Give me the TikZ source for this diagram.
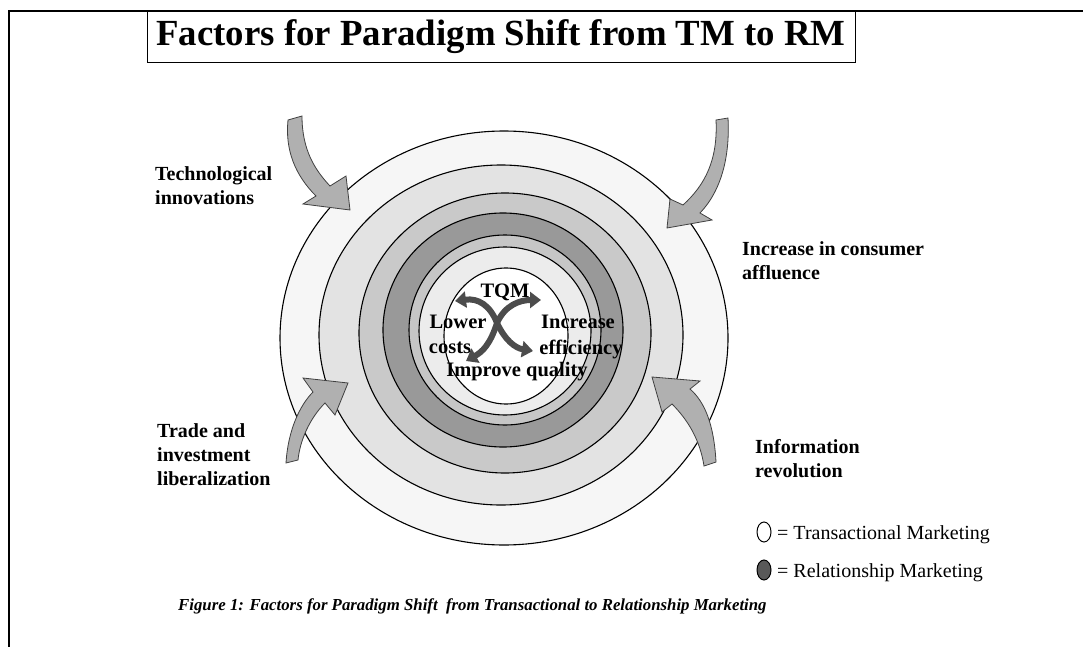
\documentclass[tikz,border=0pt]{standalone}
\usepackage{fontspec}
\setmainfont{Liberation Serif}
\usetikzlibrary{arrows.meta}
\tikzset{
  ring/.style={draw=black, line width=1.1pt},
  lab/.style={font=\fontsize{20}{24}\selectfont\bfseries, align=left, inner sep=0pt, anchor=north west},
  inlab/.style={font=\fontsize{20.5}{22}\selectfont\bfseries, inner sep=0pt},
  legtext/.style={font=\fontsize{20}{22}\selectfont, anchor=base west, inner sep=0pt},
  bigarrow/.style={fill=gray!62, draw=black!75, line width=0.8pt},
  tqmarrow/.style={draw=gray!60!black, line width=6pt, -{Triangle[width=16pt,length=11pt]}}
}
\begin{document}
\begin{tikzpicture}[x=1pt,y=-1pt]
\useasboundingbox (0,0) rectangle (1083,647);
\fill[white] (0,0) rectangle (1083,647);
% frame
\draw[line width=2pt] (9,647) -- (9,11) -- (1083,11);
\node[draw=black, line width=1pt, minimum width=708pt, minimum height=52pt, inner sep=0pt,
      font=\fontsize{36.8}{40}\selectfont\bfseries] (title) at (501,37) {Factors for Paradigm Shift from TM to RM};
% rings
\path[ring, fill=gray!7]  (504,338) ellipse [x radius=224, y radius=207];
\path[ring, fill=gray!22] (501,335) ellipse [x radius=182, y radius=170];
\path[ring, fill=gray!42] (505,333) ellipse [x radius=146, y radius=140];
\path[ring, fill=gray!80] (503,330) ellipse [x radius=120, y radius=117];
\path[ring, fill=gray!45] (505,330) ellipse [x radius=96, y radius=95];
\path[ring, fill=gray!15] (505,331) ellipse [x radius=86, y radius=84];
\path[ring, fill=white]   (506,336) ellipse [x radius=62, y radius=68];
% big arrows
\path[bigarrow] (302,116) .. controls (302,150) and (315,170) .. (330,186) -- (346,176) -- (350,210)
   -- (303,204) -- (316,196) .. controls (295,175) and (285,150) .. (288,120) -- cycle;
\path[bigarrow] (716,120) .. controls (718,160) and (705,185) .. (683,205) -- (670,199) -- (667,228)
   -- (712,220) -- (700,213) .. controls (722,190) and (730,155) .. (728,118) -- cycle;
\path[bigarrow] (286,463) .. controls (288,430) and (300,405) .. (313,392) -- (303,378) -- (348,383)
   -- (335,415) -- (325,403) .. controls (310,418) and (300,440) .. (298,460) -- cycle;
\path[bigarrow] (704,466) .. controls (700,440) and (688,420) .. (672,404) -- (662,412) -- (652,377)
   -- (700,381) -- (690,389) .. controls (705,402) and (714,425) .. (716,462) -- cycle;
% TQM arrows
\coordinate (c) at (497,323);
\draw[tqmarrow] (c) .. controls (490,305) and (478,298) .. (455,301);
\draw[tqmarrow] (c) .. controls (505,305) and (520,300) .. (541,300);
\draw[tqmarrow] (c) .. controls (490,345) and (482,352) .. (466,361);
\draw[tqmarrow] (c) .. controls (505,340) and (515,348) .. (533,351);
% inner labels
\node[inlab] (tqm) at (505,292) {TQM};
\node[inlab] (lower) at (458,322) {Lower};
\node[inlab] (costs) at (450,348) {costs};
\node[inlab] (incr) at (578,322) {Increase};
\node[inlab] (eff) at (581,349) {efficiency};
\node[inlab] (qual) at (517,372) {Improve quality};
% side labels
\node[lab] (tech) at (155,166) {Technological\\innovations};
\node[lab] (aff) at (742,241) {Increase in consumer\\affluence};
\node[lab] (trade) at (157,423) {Trade and\\investment\\liberalization};
\node[lab] (info) at (755,439) {Information\\revolution};
% legend
\path[draw=black, line width=1pt, fill=white] (764,532) ellipse [x radius=7, y radius=10];
\path[draw=black, line width=1pt, fill=gray!70!black] (764,570) ellipse [x radius=7, y radius=10];
\node[legtext] (tm) at (777,539) {= Transactional Marketing};
\node[legtext] (rm) at (777,577) {= Relationship Marketing};
% caption
\node[font=\fontsize{16.8}{19}\selectfont\bfseries\itshape, anchor=base west, inner sep=0pt] (cap) at (178,610)
  {Figure 1: Factors for Paradigm Shift\ \ from Transactional to Relationship Marketing};
\end{tikzpicture}
\end{document}
